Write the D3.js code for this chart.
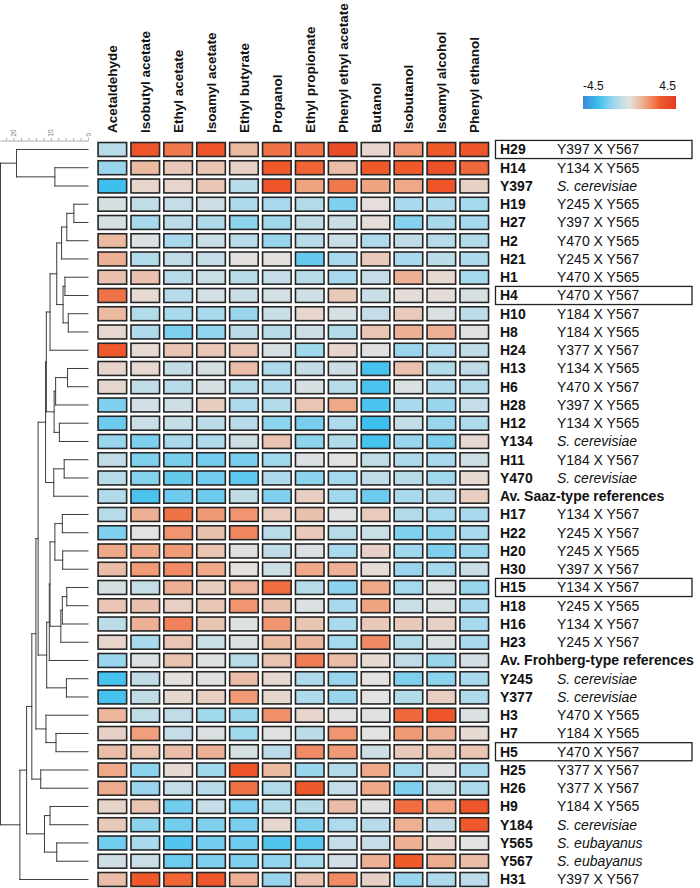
<!DOCTYPE html>
<meta charset="utf-8">
<html>
<head>
<style>
body { margin: 0; background: #fff; }
svg { display: block; font-family: "Liberation Sans", Arial, sans-serif; }
</style>
</head>
<body>
<svg width="700" height="888"></svg>
<script src="https://d3js.org/d3.v7.min.js"></script>
<script>

var compounds = ["Acetaldehyde", "Isobutyl acetate", "Ethyl acetate", "Isoamyl acetate", "Ethyl butyrate",
  "Propanol", "Ethyl propionate", "Phenyl ethyl acetate", "Butanol", "Isobutanol", "Isoamyl alcohol", "Phenyl ethanol"];

var strains = ["H29","H14","Y397","H19","H27","H2","H21","H1","H4","H10","H8","H24","H13","H6","H28","H12",
  "Y134","H11","Y470","Av. Saaz-type references","H17","H22","H20","H30","H15","H18","H16","H23",
  "Av. Frohberg-type references","Y245","Y377","H3","H7","H5","H25","H26","H9","Y184","Y565","Y567","H31"];

var crosses = ["Y397 X Y567","Y134 X Y565","S. cerevisiae","Y245 X Y565","Y397 X Y565","Y470 X Y565",
  "Y245 X Y567","Y470 X Y565","Y470 X Y567","Y184 X Y567","Y184 X Y565","Y377 X Y567","Y134 X Y565",
  "Y470 X Y567","Y397 X Y565","Y134 X Y565","S. cerevisiae","Y184 X Y567","S. cerevisiae","",
  "Y134 X Y567","Y245 X Y567","Y245 X Y565","Y397 X Y567","Y134 X Y567","Y245 X Y565","Y134 X Y567",
  "Y245 X Y567","","S. cerevisiae","S. cerevisiae","Y470 X Y565","Y184 X Y565","Y470 X Y567",
  "Y377 X Y567","Y377 X Y567","Y184 X Y565","S. cerevisiae","S. eubayanus","S. eubayanus","Y397 X Y567"];

var boxed = ["H29", "H4", "H15", "H5"];

// z-scores, one row per strain, columns in compound order
var values = [
  [-1.0, 3.3, 2.4, 3.3, 1.0, 2.5, 2.5, 3.6, 0.3, 1.8, 3.0, 3.2],
  [-1.6, 1.0, 0.6, 0.7, 0.4, 3.0, 2.8, 0.9, 3.0, 3.0, 3.4, 2.7],
  [-3.0, 0.35, 0.35, 0.7, -1.0, 3.2, 1.5, 2.4, 1.5, 1.4, 3.2, 0.4],
  [-0.3, -0.8, -0.7, -0.5, -1.2, -1.3, -1.1, -2.0, 0.1, -1.3, -1.2, -1.4],
  [-0.3, -1.3, -0.9, -1.2, -1.8, -1.5, -0.8, -0.6, 0.1, -1.9, -1.3, -1.4],
  [1.0, -0.2, -1.3, -0.6, -1.0, -1.6, -1.0, -0.6, -1.2, -0.8, -1.0, -1.1],
  [1.2, -1.1, -0.8, -0.7, 0.05, 0.05, -2.4, -1.3, 0.6, -1.3, -0.9, -1.2],
  [0.8, 0.8, -1.0, -0.6, -1.0, -0.7, -1.0, -1.3, -0.7, 1.2, 0.25, -1.4],
  [2.5, 0.2, -1.0, -0.4, -0.6, -0.4, -0.5, 0.6, -0.6, 0.15, 0.15, -0.3],
  [1.0, -1.1, -1.3, -1.3, -1.6, -0.6, 0.3, -0.3, -0.7, 0.6, -0.2, -0.9],
  [0.25, -1.2, -2.0, -1.7, -0.9, -1.0, -0.5, -1.1, 0.7, 1.2, 1.2, -0.1],
  [3.1, 0.2, 0.7, 0.65, 0.7, -0.3, -1.5, 0.3, -0.1, -1.6, -1.2, -0.8],
  [0.35, 0.25, -0.7, -0.3, 0.9, -1.2, -0.7, -0.5, -2.9, 0.8, -1.1, -0.8],
  [0.3, -0.8, -1.0, -0.3, -1.1, -1.2, -0.3, -1.0, -2.8, -0.2, -1.2, -1.1],
  [-2.0, -0.4, -0.5, 0.5, -1.2, -1.1, 0.7, 1.4, -2.8, -1.3, -1.6, -0.7],
  [-2.3, -0.6, -0.7, -0.9, -1.0, -1.8, -2.1, -1.2, -3.0, -0.7, -1.6, -1.2],
  [-1.6, -2.0, -1.3, -1.2, -0.5, 0.75, -1.8, -1.1, -2.9, -1.6, -2.0, 0.25],
  [-0.8, -2.0, -2.1, -2.2, -2.1, -1.5, -0.2, 0.0, -0.8, -1.2, -1.3, -0.5],
  [-1.0, -1.9, -2.4, -2.2, -2.5, -1.2, -1.8, -1.4, -0.8, -1.0, -1.5, 0.2],
  [-1.1, -2.8, -2.3, -2.3, -0.8, -2.0, 0.5, -1.5, -2.3, -1.3, -1.2, 0.5],
  [-1.0, 1.2, 2.5, 1.7, 1.8, 0.55, 0.8, -0.1, 0.55, -1.1, -1.4, -1.3],
  [-2.0, 0.0, 1.8, 0.8, 2.1, -1.0, 0.6, -1.0, -0.6, -2.0, -1.8, -1.3],
  [1.4, 1.4, 1.7, 0.7, -0.1, -0.8, -0.2, -1.3, 0.4, -1.5, -2.0, -1.6],
  [0.9, 1.7, 2.0, 1.4, 0.05, -0.5, 1.4, 1.2, 0.15, -1.6, -1.4, -0.6],
  [-0.3, -0.7, 1.2, 0.5, 1.1, 2.6, -1.0, -1.8, 1.4, -1.4, -0.2, -1.6],
  [0.7, 0.8, 0.45, 0.65, 1.8, 0.8, -0.2, -1.3, 1.5, -0.6, -0.2, -1.3],
  [-0.9, 1.2, 2.2, 0.7, -0.15, 1.8, 0.7, -1.3, 0.6, 0.6, 0.4, -1.4],
  [0.35, -1.3, 0.7, -0.6, -0.2, 1.0, 1.05, -1.4, 2.0, -1.1, -0.2, -1.3],
  [-1.6, -0.2, 0.75, -0.15, -1.0, 0.75, 2.3, 0.9, 0.2, -0.8, -1.6, -0.4],
  [-2.9, -0.8, 0.05, -0.1, 0.9, 0.25, -1.2, -1.6, 0.0, -2.0, -1.8, -1.3],
  [-2.9, -0.8, 0.3, 0.5, 1.7, 0.3, -1.2, -1.6, -0.05, -1.1, 0.5, -1.2],
  [1.1, -0.8, -0.8, -1.5, -1.6, 1.9, 0.35, -0.1, -0.1, 2.7, 3.2, -0.2],
  [0.4, 1.6, -0.7, -0.2, -1.5, -0.1, -0.9, 1.8, 0.0, 1.7, 1.2, 0.2],
  [0.9, 0.75, 0.9, 1.2, -0.3, -0.9, 2.0, 1.7, -0.5, 0.6, 0.75, 0.75],
  [1.4, -1.8, 0.2, -1.5, 3.2, 1.0, -1.6, -1.1, 1.4, -1.4, -0.1, -1.3],
  [1.3, -1.6, -0.7, -1.0, 2.5, -1.1, 3.1, -0.7, 1.4, -2.0, -0.8, -1.2],
  [0.35, 0.7, -2.2, -0.7, -2.0, -1.1, -1.0, 0.9, -0.1, 2.6, 1.5, 3.2],
  [0.6, -1.8, -2.2, -2.0, -2.1, 0.3, -2.0, -1.2, -1.0, 1.2, -0.8, 3.1],
  [-2.2, -1.3, -2.7, -2.2, -2.3, -2.7, -2.6, -0.7, -0.7, 1.2, 0.3, -0.05],
  [-0.5, -0.6, -2.3, -2.0, -2.0, -1.7, -1.4, -0.4, 1.2, 3.0, 1.3, 0.9],
  [0.9, 3.1, 2.8, 3.2, 1.2, -1.6, 0.8, 2.0, 0.4, -1.6, -1.2, -0.9]
];

// hierarchical clustering: [id, child a, child b, height]
var linkage = [
  ["m1","H19","H27",3.8], ["m2","m1","H2",5.7], ["m3","m2","H21",7.1],
  ["m4","H1","H4",6.2], ["m5","H10","H8",5.3], ["m6","m4","m5",6.7],
  ["m7","m3","m6",8.4], ["m8","m7","H24",10.2],
  ["m9","H13","H6",5.5], ["m10","m9","H28",8.7], ["m11","H12","Y134",7.7], ["m12","m10","m11",9.1],
  ["m13","m8","m12",11.2],
  ["m14","H11","Y470",6.4], ["m15","m14","Av. Saaz-type references",9.2], ["m16","m13","m15",11.4],
  ["m17","H17","H22",6.9], ["m18","H20","H30",6.8], ["m19","m17","m18",8.9],
  ["m20","H15","H18",5.7], ["m21","m20","H16",6.9], ["m22","m21","H23",7.3],
  ["m23","m19","m22",10.2], ["m24","m23","Av. Frohberg-type references",10.4],
  ["m25","Y245","Y377",5.8], ["m26","m24","m25",11.1],
  ["m27","m16","m26",13.4],
  ["m28","H7","H5",8.6], ["m29","H3","m28",11.3], ["m30","m27","m29",14.0],
  ["m31","H25","H26",12.7], ["m32","m30","m31",15.1],
  ["m33","H9","Y184",10.2], ["m34","Y565","Y567",8.4], ["m35","m33","m34",11.7],
  ["m36","m32","m35",16.5], ["m37","m36","H31",18.3],
  ["m38","H14","Y397",8.9], ["m39","H29","m38",19.2],
  ["m40","m39","m37",23.5]
];

var colorStops = [-4.5, -3, -1.5, 0, 1.5, 3, 4.5];
var colorRange = ["#3a8ad6", "#3ec0ee", "#a0d8ee", "#e4e2e0", "#f0a482", "#f05a2a", "#e23a26"];

var svg = d3.select("svg");

var color = d3.scaleLinear().domain(colorStops).range(colorRange).clamp(true);

var x = d3.scaleBand().domain(compounds).range([95.9, 490.7]).paddingInner(0.083).paddingOuter(0.0415);
var y = d3.scaleBand().domain(strains).range([140.35, 888.6]).paddingInner(0.15).paddingOuter(0.075);

// heatmap cells
var cells = [];
strains.forEach(function(s, i) {
  compounds.forEach(function(c, j) {
    cells.push({strain: s, compound: c, value: values[i][j]});
  });
});

svg.append("g")
    .attr("class", "cells")
  .selectAll("rect")
  .data(cells)
  .enter().append("rect")
    .attr("x", function(d) { return x(d.compound) + 0.8; })
    .attr("y", function(d) { return y(d.strain) + 0.8; })
    .attr("width", x.bandwidth() - 1.6)
    .attr("height", y.bandwidth() - 1.6)
    .attr("fill", function(d) { return color(d.value); })
    .attr("stroke", "#262626")
    .attr("stroke-width", 1.6);

// column labels
svg.append("g")
  .selectAll("text")
  .data(compounds)
  .enter().append("text")
    .attr("transform", function(d) {
      return "translate(" + (x(d) + x.bandwidth() / 2 + 5) + ",133) rotate(-90)";
    })
    .attr("font-size", "13.5px")
    .attr("font-weight", "bold")
    .attr("fill", "#111")
    .text(function(d) { return d; });

// row labels
var rows = svg.append("g")
  .selectAll("g")
  .data(strains)
  .enter().append("g")
    .attr("transform", function(d) { return "translate(0," + (y(d) + y.bandwidth() / 2) + ")"; });

rows.append("text")
    .attr("x", 500)
    .attr("y", 5)
    .attr("font-size", "14px")
    .attr("font-weight", "bold")
    .attr("fill", "#111")
    .text(function(d) { return d; });

rows.append("text")
    .attr("x", 557)
    .attr("y", 5)
    .attr("font-size", "14px")
    .attr("font-style", function(d, i) { return crosses[i].indexOf("S.") === 0 ? "italic" : null; })
    .attr("fill", "#111")
    .text(function(d, i) { return crosses[i]; });

rows.filter(function(d) { return boxed.indexOf(d) >= 0; })
  .append("rect")
    .attr("x", 495.5)
    .attr("y", -y.bandwidth() / 2 - 1.3)
    .attr("width", 196.5)
    .attr("height", y.bandwidth() + 2.6)
    .attr("fill", "none")
    .attr("stroke", "#222")
    .attr("stroke-width", 1.3);

// dendrogram
var xd = d3.scaleLinear().domain([0, 23.65]).range([88, 0]);
var nodes = {};
strains.forEach(function(s) { nodes[s] = {y: y(s) + y.bandwidth() / 2, h: 0}; });
var segs = [];
linkage.forEach(function(m) {
  var a = nodes[m[1]], b = nodes[m[2]];
  segs.push([xd(m[3]), a.y, xd(m[3]), b.y]);
  segs.push([xd(m[3]), a.y, xd(a.h), a.y]);
  segs.push([xd(m[3]), b.y, xd(b.h), b.y]);
  nodes[m[0]] = {y: (a.y + b.y) / 2, h: m[3]};
});

svg.append("g")
    .attr("class", "dendro")
  .selectAll("line")
  .data(segs)
  .enter().append("line")
    .attr("x1", function(d) { return d[0]; })
    .attr("y1", function(d) { return d[1]; })
    .attr("x2", function(d) { return d[2]; })
    .attr("y2", function(d) { return d[3]; })
    .attr("stroke", "#3c3c3c")
    .attr("stroke-width", 1)
    .attr("stroke-linecap", "square");

var axis = svg.append("g")
    .attr("transform", "translate(0,140.5)")
    .call(d3.axisTop(xd)
      .tickValues(d3.range(0, 24, 2))
      .tickSize(2.5)
      .tickSizeOuter(0)
      .tickFormat(function(d) { return d % 10 === 0 ? d : ""; }));
axis.selectAll("path, line").attr("stroke", "#888").attr("stroke-width", 0.7);
axis.selectAll("text")
    .attr("font-size", "6.5px")
    .attr("fill", "#777")
    .attr("transform", "rotate(-90)")
    .attr("x", 4)
    .attr("y", 0)
    .attr("dy", "0.32em")
    .attr("text-anchor", "start");

// colour legend
var lx = d3.scaleLinear().domain([-4.5, 4.5]).range([583, 676]);
var grad = svg.append("defs").append("linearGradient").attr("id", "lg");
grad.selectAll("stop")
  .data(d3.range(-4.5, 4.51, 0.5))
  .enter().append("stop")
    .attr("offset", function(d) { return (d + 4.5) / 9; })
    .attr("stop-color", function(d) { return color(d); });
svg.append("rect")
    .attr("x", lx(-4.5))
    .attr("y", 96)
    .attr("width", lx(4.5) - lx(-4.5))
    .attr("height", 13)
    .attr("fill", "url(#lg)");
svg.append("g")
  .selectAll("text")
  .data([-4.5, 4.5])
  .enter().append("text")
    .attr("x", function(d) { return lx(d); })
    .attr("y", 90)
    .attr("text-anchor", function(d) { return d < 0 ? "start" : "end"; })
    .attr("font-size", "12px")
    .attr("fill", "#111")
    .text(function(d) { return d; });

</script>
</body>
</html>
